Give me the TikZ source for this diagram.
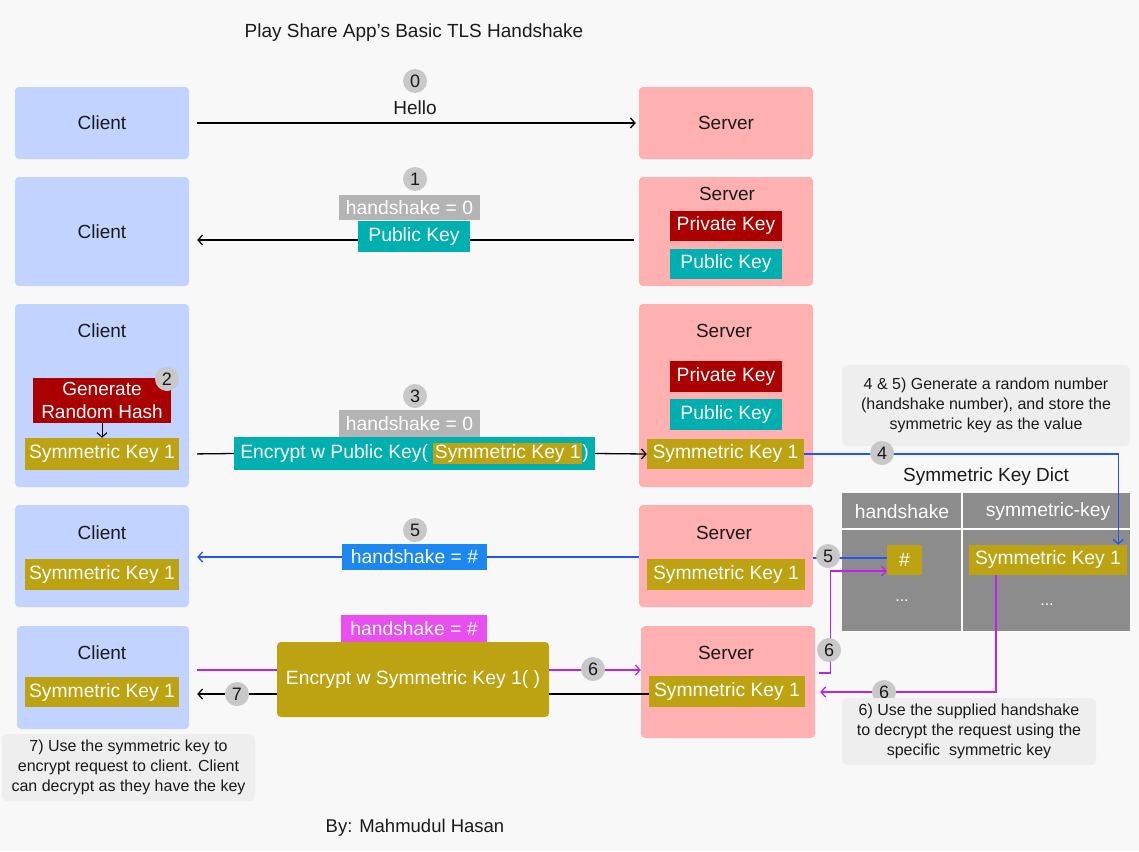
\documentclass[tikz,border=0pt]{standalone}
\usepackage{fontspec}
\setmainfont{Liberation Sans}
\usetikzlibrary{arrows.meta,calc}
\definecolor{bgc}{HTML}{F8F8F8}
\definecolor{cblue}{HTML}{C1D3FE}
\definecolor{spink}{HTML}{FFB0B0}
\definecolor{dred}{HTML}{AA0000}
\definecolor{teal2}{HTML}{00B0B0}
\definecolor{olive2}{HTML}{BDA311}
\definecolor{lgray}{HTML}{B4B4B4}
\definecolor{hblue}{HTML}{1A88F0}
\definecolor{lblue}{HTML}{2255F5}
\definecolor{hmag}{HTML}{E84EF0}
\definecolor{lmag}{HTML}{BB22EE}
\definecolor{ngray}{HTML}{C8C8C8}
\definecolor{dgray}{HTML}{8C8C8C}
\definecolor{notec}{HTML}{EEEEEE}
\definecolor{txt}{HTML}{1A1A1A}
\newcommand\fsz[1]{\fontsize{#1}{#1}\selectfont}
\tikzset{
  party/.style={rounded corners=4pt, inner sep=0pt, text=txt, font=\fsz{19}},
  cli/.style={party, fill=cblue},
  srv/.style={party, fill=spink},
  lbl/.style={inner sep=0pt, text=txt, font=\fsz{19}},
  keybox/.style={inner sep=0pt, text=white, font=\fsz{19.3}},
  num/.style={circle, fill=ngray, minimum size=24pt, inner sep=0pt, text=txt, font=\fsz{18}},
  note/.style={rounded corners=6pt, fill=notec, inner sep=0pt, align=center, text=txt, font=\fontsize{16}{20}\selectfont},
  arr/.style={-{Straight Barb[length=4.5pt,width=10pt]}},
  ln/.style={line width=1.3pt}
}
\begin{document}
\begin{tikzpicture}[x=1pt,y=-1pt]
\fill[bgc] (0,0) rectangle (1139,851);
\useasboundingbox (0,0) rectangle (1139,851);

\node[lbl, font=\fsz{19}] (title) at (414,33) {Play Share App’s Basic TLS Handshake};

% Row 1
\node[cli, minimum width=174pt, minimum height=72pt] (c1) at (102,123) {Client};
\node[srv, minimum width=174pt, minimum height=72pt] (s1) at (726,123) {Server};
\draw[ln, arr, shorten <=8pt, shorten >=3pt] (c1.east) -- (s1.west);
\node[lbl] (hello) at (415,108) {Hello};
\node[num] (n0) at (415,81) {0};

% Row 2
\node[cli, minimum width=174pt, minimum height=109pt] (c2) at (102,231.5) {Client};
\node[srv, minimum width=174pt, minimum height=109pt] (s2) at (726,231.5) {};
\node[lbl] (s2t) at (727,194) {Server};
\node[keybox, fill=dred, minimum width=112pt, minimum height=30pt] (s2priv) at (726,226) {Private Key};
\node[keybox, fill=teal2, minimum width=112pt, minimum height=30pt] (s2pub) at (726,264) {Public Key};
\draw[ln, arr, shorten <=5pt, shorten >=8pt] ([yshift=-8.5pt]s2.west) -- ([yshift=-8.5pt]c2.east);
\node[keybox, fill=lgray, minimum width=141pt, minimum height=25pt] (hs1) at (409.5,207.5) {handshake = 0};
\node[keybox, fill=teal2, minimum width=112pt, minimum height=31pt] (pk1) at (414,236.5) {Public Key};
\node[num] (n1) at (415,179) {1};

% Row 3
\node[cli, minimum width=174pt, minimum height=183pt] (c3) at (102,395.5) {};
\node[lbl] (c3t) at (102,331) {Client};
\node[keybox, fill=dred, minimum width=138pt, minimum height=45pt, align=center, font=\fontsize{19}{23}\selectfont] (gen) at (102,400.5) {Generate\\Random Hash};
\node[keybox, fill=olive2, minimum width=154pt, minimum height=32pt] (sk3c) at (102,454) {Symmetric Key 1};
\draw[line width=1pt, arr] (gen.south) -- (sk3c.north);
\node[num] (n2) at (167,379) {2};

\node[srv, minimum width=174pt, minimum height=183pt] (s3) at (726,395.5) {};
\node[lbl] (s3t) at (724,331) {Server};
\node[keybox, fill=dred, minimum width=112pt, minimum height=31pt] (s3priv) at (726,376.5) {Private Key};
\node[keybox, fill=teal2, minimum width=112pt, minimum height=31pt] (s3pub) at (726,414.5) {Public Key};
\node[keybox, fill=olive2, minimum width=157pt, minimum height=30pt] (sk3s) at (725.5,454) {Symmetric Key 1};

\node[keybox, fill=teal2, minimum width=361pt, minimum height=33pt] (enc3) at (414.5,453.5) {Encrypt w Public Key( {\fboxsep=1.5pt\colorbox{olive2}{Symmetric Key 1}})};
\node[keybox, fill=lgray, minimum width=141pt, minimum height=27pt] (hs3) at (409.5,423.5) {handshake = 0};
\node[num] (n3) at (415,396) {3};
\draw[ln, shorten <=8pt] ([yshift=-0.5pt]c3.east |- enc3.west) -- (enc3.west);
\draw[ln, arr] (enc3.east) -- (sk3s.west);

% Note 4&5
\node[note, minimum width=288pt, minimum height=81pt] (note45) at (986,405.5) {4 \& 5) Generate a random number\\(handshake number), and store the\\symmetric key as the value};

% Dictionary
\node[lbl, font=\fsz{19}] (dtitle) at (986,477) {Symmetric Key Dict};
\node[fill=dgray, minimum width=288pt, minimum height=138pt, inner sep=0pt] (dict) at (986,562) {};
\draw[white, line width=2pt] (962,493) -- (962,631);
\draw[white, line width=2pt] (842,529) -- (1130,529);
\node[keybox] (dh1) at (902,512) {handshake};
\node[keybox] (dh2) at (1048,512) {symmetric-key};
\node[keybox, fill=olive2, minimum width=35pt, minimum height=30pt] (hashbox) at (904.5,560) {\#};
\node[keybox, fill=olive2, minimum width=158pt, minimum height=30pt] (dsk) at (1048,560) {Symmetric Key 1};
\node[keybox, font=\fsz{16}] (dots1) at (902,601) {...};
\node[keybox, font=\fsz{16}] (dots2) at (1047,605) {...};

\draw[ln, lblue, arr] (sk3s.east) -| ([xshift=-9pt]dsk.north east);
\node[num] (n4) at (882,453) {4};

% Row 4
\node[cli, minimum width=174pt, minimum height=102pt] (c4) at (102,556) {};
\node[lbl] (c4t) at (102,533) {Client};
\node[keybox, fill=olive2, minimum width=154pt, minimum height=31pt] (sk4c) at (102,574.5) {Symmetric Key 1};
\node[srv, minimum width=174pt, minimum height=102pt] (s4) at (726,556) {};
\node[lbl] (s4t) at (724,533) {Server};
\node[keybox, fill=olive2, minimum width=158pt, minimum height=31pt] (sk4s) at (726,574.5) {Symmetric Key 1};
\draw[ln, lblue, arr, shorten >=8pt] ([yshift=-1pt]s4.west) -- ([yshift=-1pt]c4.east);
\node[keybox, fill=hblue, minimum width=145pt, minimum height=26pt] (hs5) at (414.5,557) {handshake = \#};
\node[num] (n5) at (415,530) {5};
\draw[ln, lblue] ([yshift=2pt]hashbox.west -| s4.east) -- ([yshift=2pt]hashbox.west);
\node[num] (n5b) at (828,556) {5};

% Row 5
\node[cli, minimum width=172pt, minimum height=103pt] (c5) at (103,677.5) {};
\node[lbl] (c5t) at (102,653) {Client};
\node[keybox, fill=olive2, minimum width=154pt, minimum height=30pt] (sk5c) at (102,692) {Symmetric Key 1};
\node[srv, minimum width=174pt, minimum height=112pt] (s5) at (728,682) {};
\node[lbl] (s5t) at (726,653) {Server};
\node[keybox, fill=olive2, minimum width=156pt, minimum height=31pt] (sk5s) at (727,691.5) {Symmetric Key 1};

\node[keybox, fill=olive2, rounded corners=4pt, minimum width=272pt, minimum height=75pt] (enc5) at (413,679.5) {Encrypt w Symmetric Key 1( )};
\node[keybox, fill=hmag, minimum width=146pt, minimum height=27pt] (hs6) at (414,628.5) {handshake = \#};

\draw[ln, lmag, shorten <=8pt] ([yshift=7.5pt]c5.east) -- ([yshift=9.5pt]enc5.west);
\draw[ln, lmag, arr] ([yshift=9.5pt]enc5.east) -- ([yshift=12pt]s5.west);
\node[num] (n6a) at (593,669) {6};
\draw[ln] (sk5s.west |- 0,694) -- ([yshift=-14.5pt]enc5.east);
\draw[ln, arr, shorten >=8pt] ([yshift=-14.5pt]enc5.west) -- ([yshift=-16.5pt]c5.east);
\node[num] (n7) at (237,694) {7};

\draw[ln, lmag, arr] ([xshift=4pt,yshift=9pt]s5.east) -- ++(11,0) |- ([yshift=-11pt]hashbox.west);
\node[num] (n6b) at (829,650) {6};
\draw[ln, lmag, arr] ([xshift=-52pt]dsk.south) |- ([xshift=5pt,yshift=-10pt]s5.east);
\node[num] (n6c) at (884,692) {6};

% Notes
\node[note, minimum width=254pt, minimum height=67pt] (note6) at (969,731.5) {6) Use the supplied handshake\\to decrypt the request using the\\specific\ \ symmetric key};
\node[note, minimum width=253pt, minimum height=67pt] (note7) at (128.5,767.5) {7) Use the symmetric key to\\encrypt request to client. Client\\can decrypt as they have the key};

\node[lbl, font=\fsz{18.5}] (by) at (415,828) {By: Mahmudul Hasan};
\end{tikzpicture}
\end{document}
